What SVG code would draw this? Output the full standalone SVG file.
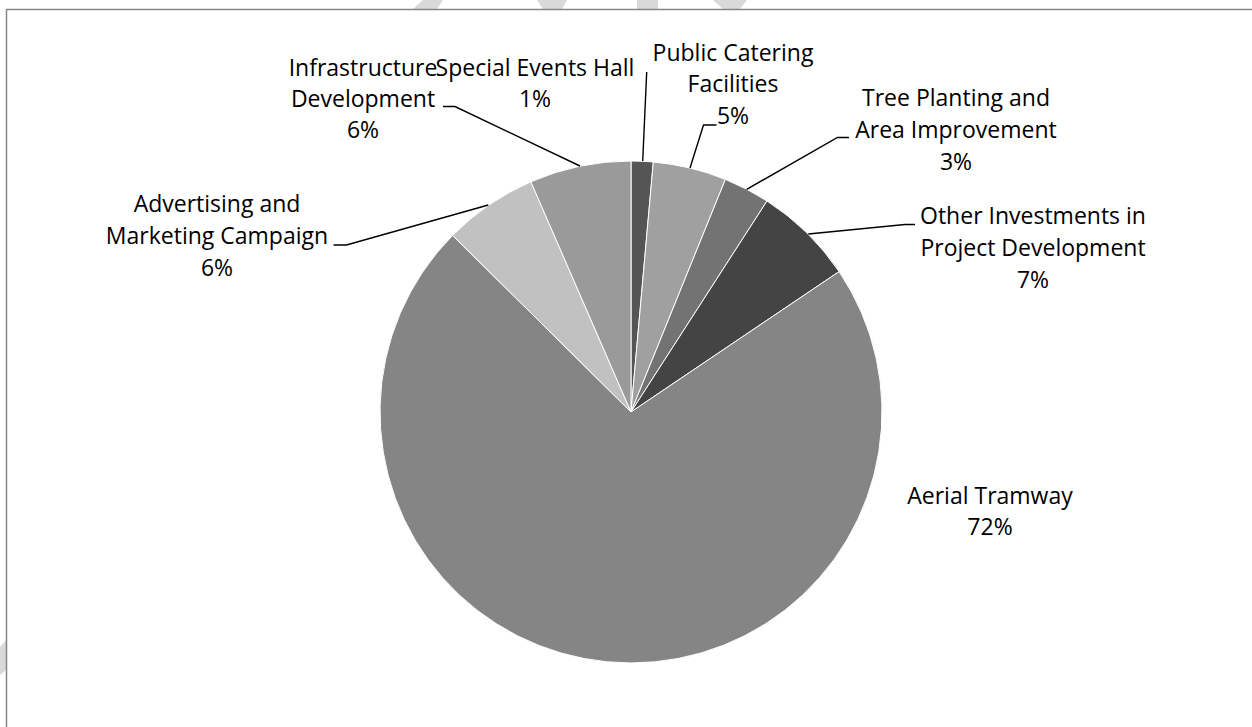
<svg xmlns="http://www.w3.org/2000/svg" width="1252" height="727" viewBox="0 0 1252 727">
<style>
  .lbl { font-family: "Open Sans", "Noto Sans", "Liberation Sans", sans-serif; font-size: 23px; fill: #000; text-anchor: middle; }
  .slice { stroke: #ffffff; stroke-width: 1; stroke-linejoin: round; }
  .leader { fill: none; stroke: #000; stroke-width: 1.4; }
  .wm { fill: #d9d9d9; }
</style>
<rect x="0" y="0" width="1252" height="727" fill="#ffffff"/>
<g id="watermark">
  <polygon class="wm" points="423,0 443,0 437,9 413,9"/>
  <polygon class="wm" points="537,0 567,0 562,9 543,9"/>
  <polygon class="wm" points="637,0 658,0 658,9 637,9"/>
  <polygon class="wm" points="713,0 747,0 740,9 723,9"/>
  <polygon class="wm" points="0,647 6,640 6,670 0,675"/>
</g>
<g id="frame">
  <path d="M6.5,727 L6.5,9.5 L1252,9.5" fill="none" stroke="#868686" stroke-width="1.5"/>
</g>
<g id="pie">
  <g id="slice-special-events-hall"><path class="slice" fill="#555555" d="M631,412 L631,161 A251,251 0 0 1 653.3,162 Z"/></g>
  <g id="slice-public-catering"><path class="slice" fill="#a0a0a0" d="M631,412 L653.3,162 A251,251 0 0 1 725.4,179.4 Z"/></g>
  <g id="slice-tree-planting"><path class="slice" fill="#737373" d="M631,412 L725.4,179.4 A251,251 0 0 1 767,201 Z"/></g>
  <g id="slice-other-investments"><path class="slice" fill="#444444" d="M631,412 L767,201 A251,251 0 0 1 839.1,271.6 Z"/></g>
  <g id="slice-aerial-tramway"><path class="slice" fill="#858585" d="M631,412 L839.1,271.6 A251,251 0 1 1 452.6,235.4 Z"/></g>
  <g id="slice-advertising"><path class="slice" fill="#c1c1c1" d="M631,412 L452.6,235.4 A251,251 0 0 1 530.9,181.8 Z"/></g>
  <g id="slice-infrastructure"><path class="slice" fill="#9a9a9a" d="M631,412 L530.9,181.8 A251,251 0 0 1 631,161 Z"/></g>
</g>
<g id="connectors">
  <path class="leader" d="M443,106.5 L455,106.5 L580,166"/>
  <path class="leader" d="M646.7,72 L642.7,161"/>
  <path class="leader" d="M716.5,125 L703.5,125 L690,168"/>
  <path class="leader" d="M849,137.5 L837.5,137.5 L746.7,189.3"/>
  <path class="leader" d="M915,224.5 L905,224.5 L808.3,234"/>
  <path class="leader" d="M333.5,245 L346.5,245 L488.3,205"/>
</g>
<g id="label-infrastructure">
  <text class="lbl" x="363" y="76">Infrastructure</text>
  <text class="lbl" x="363" y="107">Development</text>
  <text class="lbl" x="363" y="138">6%</text>
</g>
<g id="label-special-events-hall">
  <text class="lbl" x="535" y="76">Special Events Hall</text>
  <text class="lbl" x="535" y="107">1%</text>
</g>
<g id="label-public-catering">
  <text class="lbl" x="733" y="60.5">Public Catering</text>
  <text class="lbl" x="733" y="92">Facilities</text>
  <text class="lbl" x="733" y="123.5">5%</text>
</g>
<g id="label-tree-planting">
  <text class="lbl" x="956" y="106">Tree Planting and</text>
  <text class="lbl" x="956" y="138">Area Improvement</text>
  <text class="lbl" x="956" y="170">3%</text>
</g>
<g id="label-other-investments">
  <text class="lbl" x="1033" y="224">Other Investments in</text>
  <text class="lbl" x="1033" y="256">Project Development</text>
  <text class="lbl" x="1033" y="288">7%</text>
</g>
<g id="label-advertising">
  <text class="lbl" x="217" y="212">Advertising and</text>
  <text class="lbl" x="217" y="244">Marketing Campaign</text>
  <text class="lbl" x="217" y="276">6%</text>
</g>
<g id="label-aerial-tramway">
  <text class="lbl" x="990" y="504">Aerial Tramway</text>
  <text class="lbl" x="990" y="535">72%</text>
</g>
</svg>
